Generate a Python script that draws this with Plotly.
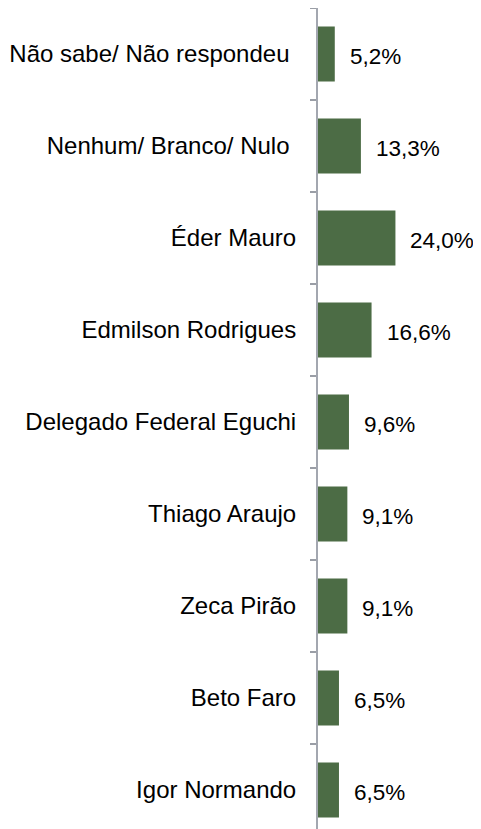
import plotly.graph_objects as go

categories = [
    "Não sabe/ Não respondeu\u00a0",
    "Nenhum/ Branco/ Nulo\u00a0",
    "Éder Mauro",
    "Edmilson Rodrigues",
    "Delegado Federal Eguchi",
    "Thiago Araujo",
    "Zeca Pirão",
    "Beto Faro",
    "Igor Normando",
]
values = [5.2, 13.3, 24.0, 16.6, 9.6, 9.1, 9.1, 6.5, 6.5]
value_labels = ["5,2%", "13,3%", "24,0%", "16,6%", "9,6%", "9,1%", "9,1%", "6,5%", "6,5%"]

fig = go.Figure()
fig.add_trace(go.Bar(
    x=values,
    y=categories,
    orientation="h",
    marker=dict(color="#4C6C45", line=dict(width=0)),
    hoverinfo="skip",
))

for cat, val, lab in zip(categories, values, value_labels):
    fig.add_annotation(
        x=val, y=cat, text=lab, showarrow=False,
        xanchor="left", yanchor="middle", xshift=13, yshift=-2,
        font=dict(family="Liberation Sans, Arial, sans-serif", size=22.5, color="#000000"),
    )

fig.update_layout(
    width=481, height=828,
    margin=dict(l=310, r=0, t=0, b=0, autoexpand=False),
    paper_bgcolor="white", plot_bgcolor="white",
    showlegend=False,
    bargap=0.4,
    font=dict(family="Liberation Sans, Arial, sans-serif", color="#000000"),
)
fig.update_xaxes(range=[0, 53], visible=False, showgrid=False, zeroline=False)
fig.update_yaxes(
    type="category",
    autorange="reversed",
    automargin=False,
    tickson="boundaries",
    ticks="outside", ticklen=6, tickwidth=1.5, tickcolor="#9A9EA6",
    ticklabelstandoff=15,
    showline=True, linecolor="#A3A7B0", linewidth=2,
    showgrid=False, zeroline=False,
    tickfont=dict(family="Liberation Sans, Arial, sans-serif", size=24, color="#000000"),
)

fig.write_html("out.html")
